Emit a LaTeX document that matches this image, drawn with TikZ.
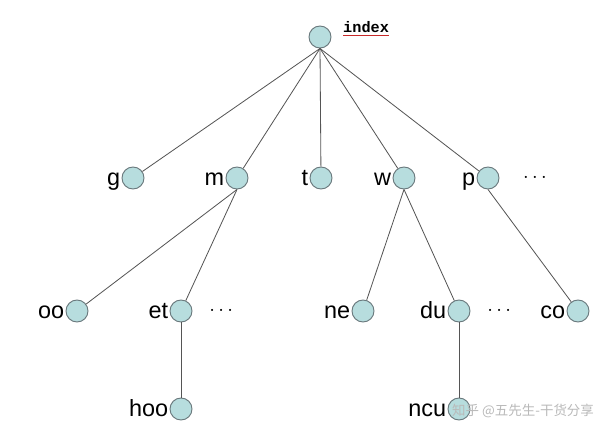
\documentclass[tikz,border=0pt]{standalone}
\usepackage{fontspec}
\setmainfont{Liberation Sans}
\newfontfamily\idxfont{Liberation Mono}
\newfontfamily\cjk{Noto Sans CJK SC}
\usetikzlibrary{positioning}
\definecolor{nodefill}{RGB}{183,221,222}
\definecolor{nodeline}{RGB}{105,120,124}
\definecolor{edgegray}{RGB}{85,85,85}
\definecolor{idxred}{RGB}{200,40,40}

\begin{document}
\begin{tikzpicture}[x=0.03cm, y=-0.03cm,
    vtx/.style={circle, draw=nodeline, fill=nodefill, line width=0.8pt, minimum size=0.66cm, inner sep=0pt},
    lbl/.style={font=\fontsize{20}{22}\selectfont, text height=1.1ex, text depth=0pt, inner sep=1pt, yshift=-0.12cm},
    dots/.style={font=\fontsize{16}{18}\selectfont, inner sep=0pt},
    edge/.style={draw=edgegray, line width=0.7pt}
]
    \useasboundingbox (0,0) rectangle (600,433);
    % level 0
    \node[vtx] (root) at (320,37) {};
    \node[anchor=south west, inner sep=0pt, font=\idxfont\bfseries\fontsize{13}{14}\selectfont] (idx) at (343,33) {index};
    \draw[idxred, line width=0.8pt] ([yshift=-2pt]idx.south west) -- ([yshift=-2pt]idx.south east);
    % level 1
    \node[vtx, label={[lbl]left:g}] (g) at (133,178) {};
    \node[vtx, label={[lbl]left:m}] (m) at (237,178) {};
    \node[vtx, label={[lbl]left:t}] (t) at (321,178) {};
    \node[vtx, label={[lbl]left:w}] (w) at (404,178) {};
    \node[vtx, label={[lbl]left:p}] (p) at (488,178) {};
    \node[dots, right=0.7cm of p] (pdots) {$\cdots$};
    % level 2
    \node[vtx, label={[lbl]left:oo}] (oo) at (77,311) {};
    \node[vtx, label={[lbl]left:et}] (et) at (181,311) {};
    \node[dots, right=0.5cm of et] (etdots) {$\cdots$};
    \node[vtx, label={[lbl]left:ne}] (ne) at (363,311) {};
    \node[vtx, label={[lbl]left:du}] (du) at (459,311) {};
    \node[dots, right=0.5cm of du] (dudots) {$\cdots$};
    \node[vtx, label={[lbl]left:co}] (co) at (578,311) {};
    % level 3
    \node[vtx, label={[lbl]left:hoo}] (hoo) at (181,409) {};
    \node[vtx, label={[lbl]left:ncu}] (ncu) at (459,409) {};

    \foreach \c in {g,m,t,w,p}
        \draw[edge] (root.south) -- (\c);
    \draw[edge] (m.south) -- (oo);
    \draw[edge] (m.south) -- (et);
    \draw[edge] (et) -- (hoo);
    \draw[edge] (w.south) -- (ne);
    \draw[edge] (w.south) -- (du);
    \draw[edge] (du) -- (ncu);
    \draw[edge] (p.south) -- (co);

    \node[anchor=west, inner sep=0pt, text=gray!55, font=\cjk\fontsize{11.5}{13}\selectfont] (wmark) at (452,411) {知乎 @五先生-干货分享};
\end{tikzpicture}
\end{document}
